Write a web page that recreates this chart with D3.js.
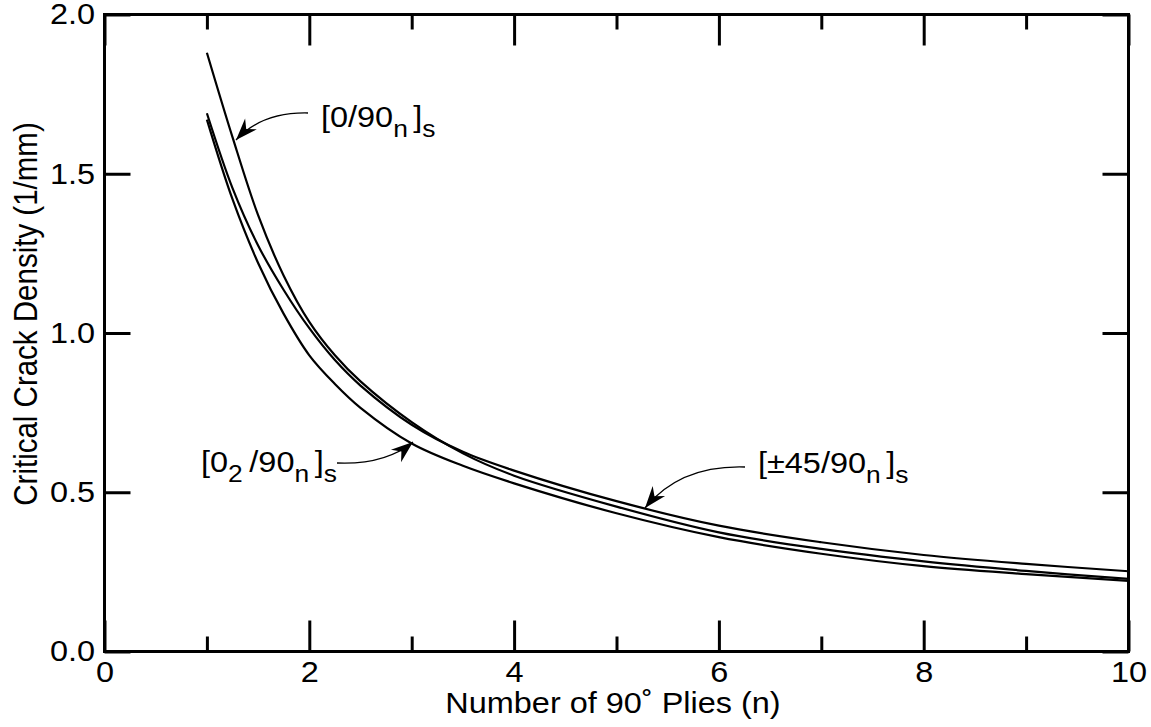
<!DOCTYPE html>
<html>
<head>
<meta charset="utf-8">
<script src="https://cdn.jsdelivr.net/npm/d3@7"></script>
<style>
  html, body { margin: 0; padding: 0; background: #fff; }
  svg { display: block; }
  text { font-family: "Liberation Sans", Arial, Helvetica, sans-serif; fill: #000; }
</style>
</head>
<body>
<svg id="chart" width="1151" height="727"></svg>
<script>
// ---------- data ----------
const nValues = [1, 1.25, 1.5, 1.75, 2, 2.25, 2.5, 3, 3.5, 4, 5, 6, 7, 8, 9, 10];
const series0_90 = [1.88, 1.615, 1.37, 1.18, 1.035, 0.93, 0.848, 0.72, 0.622, 0.552, 0.455, 0.374, 0.322, 0.283, 0.253, 0.228];
const series45_90 = [1.69, 1.455, 1.275, 1.135, 1.015, 0.915, 0.835, 0.712, 0.627, 0.568, 0.472, 0.395, 0.343, 0.303, 0.275, 0.252];
const series02_90 = [1.67, 1.42, 1.22, 1.06, 0.93, 0.84, 0.765, 0.653, 0.583, 0.528, 0.434, 0.359, 0.307, 0.268, 0.243, 0.222];
const xMajorTicks = [0, 2, 4, 6, 8, 10];
const xMinorTicks = [1, 3, 5, 7, 9];
const yTicks = [0, 0.5, 1.0, 1.5, 2.0];
const xTitle = "Number of 90˚ Plies (n)";
const yTitle = "Critical Crack Density (1/mm)";

// ---------- layout ----------
const svg = d3.select("#chart");
const L = 104.5, R = 1128.5, T = 14.5, B = 651.5;
const FS = 29.5, SX = 1.1, SUB = 24;
const x = d3.scaleLinear().domain([0, 10]).range([L, R]);
const y = d3.scaleLinear().domain([0, 2]).range([B, T]);

svg.append("rect").attr("width", 1151).attr("height", 727).attr("fill", "#fff");

function styleAxis(g) {
  g.select(".domain").remove();
  g.selectAll(".tick line").attr("stroke", "#000").attr("stroke-width", 3);
  g.selectAll(".tick text").attr("font-size", FS).attr("fill", "#000")
    .attr("font-family", '"Liberation Sans", Arial, sans-serif');
}

// bottom
svg.append("g").attr("transform", `translate(0,${B})`)
  .call(d3.axisBottom(x).tickValues(xMajorTicks).tickSize(-31).tickPadding(9.5).tickFormat(d3.format("d")))
  .call(styleAxis)
  .call(g => g.selectAll(".tick text").attr("transform", `scale(${SX},1)`));
svg.append("g").attr("transform", `translate(0,${B})`)
  .call(d3.axisBottom(x).tickValues(xMinorTicks).tickSize(-15).tickFormat(""))
  .call(styleAxis);
// top
svg.append("g").attr("transform", `translate(0,${T})`)
  .call(d3.axisTop(x).tickValues(xMajorTicks).tickSize(-31).tickFormat(""))
  .call(styleAxis);
svg.append("g").attr("transform", `translate(0,${T})`)
  .call(d3.axisTop(x).tickValues(xMinorTicks).tickSize(-15).tickFormat(""))
  .call(styleAxis);
// left
svg.append("g").attr("transform", `translate(${L},0)`)
  .call(d3.axisLeft(y).tickValues(yTicks).tickSize(-26).tickPadding(8.5).tickFormat(d3.format(".1f")))
  .call(styleAxis)
  .call(g => g.selectAll(".tick text").attr("transform", `scale(${SX},1)`));
// right
svg.append("g").attr("transform", `translate(${R},0)`)
  .call(d3.axisRight(y).tickValues(yTicks).tickSize(-26).tickFormat(""))
  .call(styleAxis);

// frame
svg.append("rect").attr("x", L).attr("y", T).attr("width", R - L).attr("height", B - T)
  .attr("fill", "none").attr("stroke", "#000").attr("stroke-width", 3);

// curves
const line = d3.line().x((d, i) => x(nValues[i])).y(d => y(d)).curve(d3.curveCatmullRom.alpha(0.5));
[series0_90, series45_90, series02_90].forEach(s => {
  svg.append("path").datum(s).attr("d", line)
    .attr("fill", "none").attr("stroke", "#000").attr("stroke-width", 2.2);
});

// axis titles
svg.append("text").attr("transform", `translate(613,713) scale(${SX},1)`)
  .attr("text-anchor", "middle").attr("font-size", FS).text(xTitle);
svg.append("text").attr("transform", `translate(37,314) scale(${SX},1) rotate(-90)`)
  .attr("text-anchor", "middle").attr("font-size", FS).text(yTitle);

// arrow marker
const defs = svg.append("defs");
defs.append("marker").attr("id", "arr").attr("viewBox", "-23 -9 24 18")
  .attr("markerUnits", "userSpaceOnUse").attr("markerWidth", 24).attr("markerHeight", 18)
  .attr("refX", 0).attr("refY", 0).attr("orient", "auto")
  .append("path").attr("d", "M0,0 L-22,-8 L-15,0 L-22,8 Z").attr("fill", "#000");

// annotations
function label(xp, yp, parts) {
  const t = svg.append("text").attr("transform", `translate(${xp},${yp}) scale(${SX},1)`)
    .attr("font-size", FS);
  let sub = false;
  parts.forEach(p => {
    const ts = t.append("tspan").text(p.t);
    if (p.sub) {
      ts.attr("font-size", SUB);
      if (!sub) { ts.attr("dy", 10); sub = true; }
    } else if (sub) { ts.attr("dy", -10); sub = false; }
    if (p.dx) ts.attr("dx", p.dx);
  });
}
label(321, 127, [{t: "[0/90"}, {t: "n", sub: true}, {t: "]", dx: 5}, {t: "s", sub: true}]);
label(201, 472, [{t: "[0"}, {t: "2", sub: true}, {t: "/90", dx: 6}, {t: "n", sub: true}, {t: "]", dx: 5}, {t: "s", sub: true}]);
label(758, 473, [{t: "[±45/90"}, {t: "n", sub: true}, {t: "]", dx: 5}, {t: "s", sub: true}]);

function arrow(x0, y0, cx, cy, x1, y1) {
  svg.append("path").attr("d", `M${x0},${y0} Q${cx},${cy} ${x1},${y1}`)
    .attr("fill", "none").attr("stroke", "#000").attr("stroke-width", 1.3)
    .attr("marker-end", "url(#arr)");
}
arrow(308, 113, 262, 112, 236, 140);
arrow(337, 463, 385, 465, 413, 442);
arrow(745, 467, 680, 465, 645, 508);
</script>
</body>
</html>
